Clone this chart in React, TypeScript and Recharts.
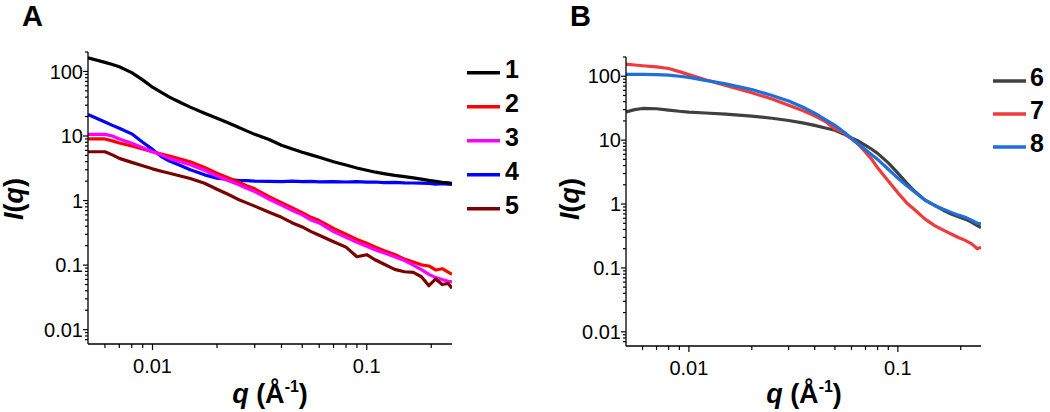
import { LineChart, Line, XAxis, YAxis } from "recharts";

// q grid (Å^-1) and intensities
const qA = [0.005, 0.006, 0.0065, 0.007, 0.008, 0.009, 0.01, 0.011, 0.012, 0.0135, 0.015, 0.0175, 0.02, 0.0225, 0.025, 0.0275, 0.03, 0.035, 0.04, 0.045, 0.05, 0.055, 0.06, 0.07, 0.08, 0.09, 0.1, 0.11, 0.12, 0.135, 0.15, 0.165, 0.18, 0.195, 0.21, 0.225, 0.24, 0.25];
const s1 = [162, 138, 128, 118, 96, 74, 57, 47.5, 40, 33, 28, 22.5, 18.8, 16, 13.8, 12, 10.6, 8.8, 7.2, 6.3, 5.6, 5.1, 4.7, 4.0, 3.55, 3.2, 2.95, 2.75, 2.62, 2.45, 2.35, 2.25, 2.15, 2.05, 1.98, 1.92, 1.88, 1.85];
const s2 = [9.0, 9.0, 8.4, 7.8, 7.0, 6.3, 5.7, 5.25, 4.9, 4.4, 4.0, 3.25, 2.65, 2.25, 1.95, 1.7, 1.52, 1.15, 0.93, 0.77, 0.65, 0.55, 0.49, 0.37, 0.3, 0.25, 0.218, 0.19, 0.168, 0.146, 0.124, 0.112, 0.101, 0.097, 0.084, 0.088, 0.078, 0.072];
const s3 = [10.6, 10.6, 10.0, 9.0, 7.7, 6.6, 5.7, 5.1, 4.5, 4.0, 3.6, 2.95, 2.4, 2.05, 1.78, 1.55, 1.38, 1.05, 0.85, 0.7, 0.6, 0.5, 0.45, 0.33, 0.27, 0.225, 0.196, 0.172, 0.155, 0.135, 0.118, 0.1, 0.085, 0.072, 0.064, 0.06, 0.056, 0.055];
const s4 = [21.6, 16.5, 14.6, 13.2, 10.8, 8.0, 6.2, 4.8, 4.1, 3.5, 3.0, 2.5, 2.22, 2.12, 2.06, 2.03, 2.0, 1.98, 1.97, 2.0, 1.96, 1.98, 1.95, 1.97, 1.94, 1.96, 1.93, 1.94, 1.9, 1.91, 1.88, 1.87, 1.86, 1.84, 1.8, 1.83, 1.79, 1.78];
const s5 = [5.7, 5.7, 5.1, 4.5, 3.9, 3.45, 3.1, 2.85, 2.65, 2.4, 2.2, 1.85, 1.5, 1.25, 1.05, 0.92, 0.82, 0.66, 0.55, 0.45, 0.39, 0.33, 0.29, 0.23, 0.19, 0.135, 0.145, 0.12, 0.104, 0.086, 0.079, 0.077, 0.066, 0.048, 0.061, 0.05, 0.052, 0.044];

// q grid and intensities
const qB = [0.005, 0.0055, 0.006, 0.007, 0.008, 0.009, 0.01, 0.012, 0.015, 0.02, 0.025, 0.03, 0.035, 0.04, 0.045, 0.05, 0.055, 0.06, 0.065, 0.07, 0.075, 0.08, 0.09, 0.1, 0.11, 0.12, 0.135, 0.15, 0.165, 0.18, 0.195, 0.21, 0.225, 0.24, 0.25];
const s6 = [27.7, 30, 31.3, 31, 29.5, 28.3, 27.5, 26.6, 25.6, 23.8, 22, 20.3, 18.6, 17, 15.5, 14.3, 12.5, 10.8, 9.6, 8.3, 7.2, 6.2, 4.4, 3.05, 2.15, 1.6, 1.15, 0.95, 0.8, 0.7, 0.63, 0.58, 0.52, 0.46, 0.43];
const s7 = [155, 150, 146, 140, 132, 118, 106, 88, 72, 55, 44, 35, 29, 24, 19.5, 15, 13, 10.5, 8.5, 6.5, 5.0, 3.7, 2.3, 1.5, 1.05, 0.82, 0.58, 0.46, 0.39, 0.34, 0.3, 0.27, 0.24, 0.2, 0.21];
const s8 = [107, 107, 107, 106, 104, 100, 96, 86, 76, 62, 50, 41, 33, 26.5, 21, 17, 13.5, 10.6, 8.6, 7.1, 5.9, 5.0, 3.5, 2.55, 1.95, 1.55, 1.15, 0.95, 0.83, 0.74, 0.67, 0.62, 0.56, 0.5, 0.49];

const xMajor = [0.01, 0.1];
const xMinor = [0.006, 0.007, 0.008, 0.009, 0.02, 0.03, 0.04, 0.05, 0.06, 0.07, 0.08, 0.09, 0.2];
const yMajor = [0.01, 0.1, 1, 10, 100];
const yMinor = [0.007, 0.008, 0.009, 0.02, 0.03, 0.04, 0.05, 0.06, 0.07, 0.08, 0.09, 0.2, 0.3, 0.4, 0.5, 0.6, 0.7, 0.8, 0.9, 2, 3, 4, 5, 6, 7, 8, 9, 20, 30, 40, 50, 60, 70, 80, 90, 200];

const seriesA = [
  { name: "4", color: "#0000ff", values: s4 },
  { name: "2", color: "#ff0000", values: s2 },
  { name: "3", color: "#ff00ff", values: s3 },
  { name: "5", color: "#7b0000", values: s5 },
  { name: "1", color: "#000000", values: s1 },
];
const legendA = ["1", "2", "3", "4", "5"];
const seriesB = [
  { name: "6", color: "#404040", values: s6 },
  { name: "7", color: "#ef3b3b", values: s7 },
  { name: "8", color: "#1e6fdc", values: s8 },
];

const FONT = "'Liberation Sans', Arial, Helvetica, sans-serif";

function XTick(props: any) {
  const { x, y, payload } = props;
  const major = xMajor.includes(payload.value);
  return (
    <g>
      <line x1={x} x2={x} y1={y} y2={y + (major ? 6 : 4)} stroke="#000" strokeWidth={1.2} />
      {major && (
        <text x={x} y={y + 29} textAnchor="middle" fontSize={20} fill="#000" fontFamily={FONT}>
          {String(payload.value)}
        </text>
      )}
    </g>
  );
}

function YTick(props: any) {
  const { x, y, payload } = props;
  const major = yMajor.includes(payload.value);
  return (
    <g>
      <line x1={x - (major ? 5 : 3)} x2={x} y1={y} y2={y} stroke="#000" strokeWidth={1.2} />
      {major && (
        <text x={x - 5} y={y} dy="0.36em" textAnchor="end" fontSize={20} fill="#000" fontFamily={FONT}>
          {String(payload.value)}
        </text>
      )}
    </g>
  );
}

function Panel({ q, series, margin, width }: any) {
  return (
    <LineChart width={width} height={412} margin={margin}>
      <XAxis
        dataKey="q"
        type="number"
        scale="log"
        domain={[0.005, 0.25]}
        allowDataOverflow
        ticks={[...xMajor, ...xMinor]}
        interval={0}
        tick={(p: any) => <XTick {...p} />}
        tickLine={false}
        tickSize={0}
        tickMargin={0}
        height={40}
        axisLine={{ stroke: "#000", strokeWidth: 1.3 }}
      />
      <YAxis
        type="number"
        scale="log"
        domain={[0.006, 200]}
        allowDataOverflow
        ticks={[...yMajor, ...yMinor]}
        interval={0}
        tick={(p: any) => <YTick {...p} />}
        tickLine={false}
        tickSize={0}
        tickMargin={0}
        width={60}
        axisLine={{ stroke: "#000", strokeWidth: 1.3 }}
      />
      {series.map((s: any) => (
        <Line
          key={s.name}
          data={q.map((qq: number, i: number) => ({ q: qq, v: s.values[i] }))}
          dataKey="v"
          type="linear"
          stroke={s.color}
          strokeWidth={3.2}
          strokeLinejoin="round"
          dot={false}
          activeDot={false}
          isAnimationActive={false}
        />
      ))}
    </LineChart>
  );
}

function XTitle({ cx }: { cx: number }) {
  return (
    <text x={cx} y={403} textAnchor="middle" fontSize={27} fontWeight="bold">
      <tspan fontStyle="italic">q</tspan> (Å
      <tspan fontSize={16} dy={-11}>-1</tspan>
      <tspan dy={11}>)</tspan>
    </text>
  );
}

function YTitle({ x }: { x: number }) {
  return (
    <text transform={`translate(${x},199) rotate(-90)`} textAnchor="middle" fontSize={27} fontWeight="bold">
      <tspan fontStyle="italic">I</tspan>(<tspan fontStyle="italic">q</tspan>)
    </text>
  );
}

export default function App() {
  const colorOf = (n: string) => [...seriesA, ...seriesB].find((s) => s.name === n)!.color;
  return (
    <div style={{ position: "absolute", left: 0, top: 0, width: 1050, height: 412, background: "#fff", fontFamily: FONT }}>
      <div style={{ position: "absolute", left: 0, top: 0 }}>
        <Panel q={qA} series={seriesA} width={530} margin={{ top: 52, right: 78, bottom: 28, left: 28 }} />
      </div>
      <div style={{ position: "absolute", left: 520, top: 0 }}>
        <Panel q={qB} series={seriesB} width={530} margin={{ top: 57, right: 69, bottom: 26, left: 46 }} />
      </div>
      <svg width={1050} height={412} style={{ position: "absolute", left: 0, top: 0, pointerEvents: "none" }} fontFamily={FONT} fill="#000">
        <text x={22} y={26} fontSize={29} fontWeight="bold">A</text>
        <text x={570} y={26} fontSize={29} fontWeight="bold">B</text>
        <YTitle x={23} />
        <YTitle x={579} />
        <XTitle cx={270} />
        <XTitle cx={804} />
        {legendA.map((n, i) => (
          <g key={n}>
            <line x1={467} x2={500} y1={72.7 + i * 34} y2={72.7 + i * 34} stroke={colorOf(n)} strokeWidth={3.5} />
            <text x={505} y={77.5 + i * 34} fontSize={25} fontWeight="bold">{n}</text>
          </g>
        ))}
        {seriesB.map((s, i) => (
          <g key={s.name}>
            <line x1={993} x2={1026} y1={81 + i * 33} y2={81 + i * 33} stroke={s.color} strokeWidth={3.5} />
            <text x={1030} y={86 + i * 33} fontSize={25} fontWeight="bold">{s.name}</text>
          </g>
        ))}
      </svg>
    </div>
  );
}
